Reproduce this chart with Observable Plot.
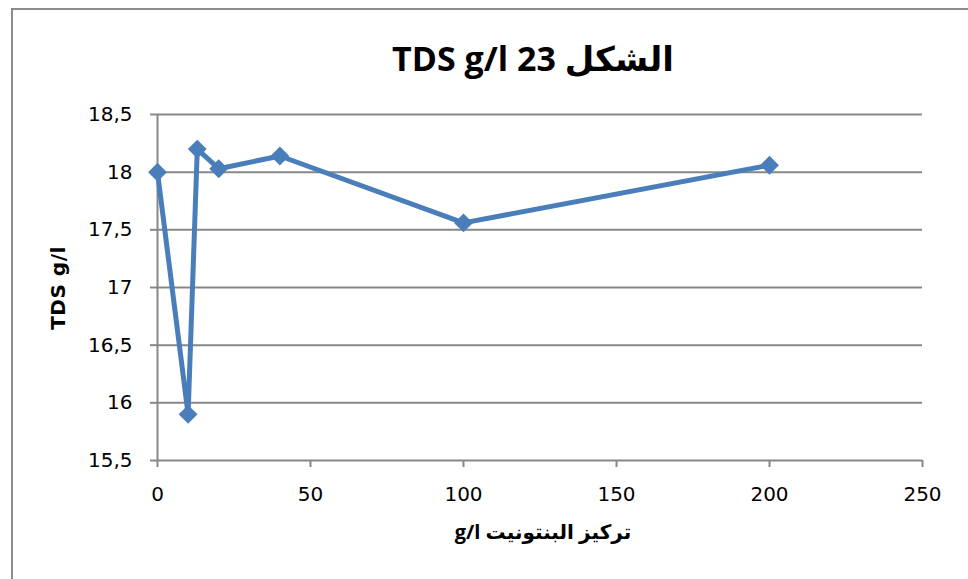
<!DOCTYPE html>
<html>
<head>
<meta charset="utf-8">
<script src="https://cdn.jsdelivr.net/npm/d3@7"></script>
<script src="https://cdn.jsdelivr.net/npm/@observablehq/plot@0.6"></script>
<style>
  html, body { margin: 0; padding: 0; background: #fff; }
  #wrap { position: relative; width: 968px; height: 579px; overflow: hidden; background: #fff; }
  #frame { position: absolute; left: 11px; top: 8px; width: 1000px; height: 700px;
           border-left: 2px solid #8c8c8c; border-top: 2px solid #8c8c8c; box-sizing: border-box; }
  #chart { position: absolute; left: 0; top: 0; }
  .lbl { position: absolute; font-weight: bold; color: #000; white-space: nowrap; line-height: 1; }
  #title { left: 233px; width: 600px; top: 41px; text-align: center; font-size: 34px;
           font-family: "Open Sans", "DejaVu Sans", sans-serif; direction: rtl; }
  #xlabel { left: 343px; width: 400px; top: 522px; text-align: center; font-size: 20px;
            font-family: "Open Sans", "DejaVu Sans", sans-serif; direction: rtl; }
  #ylabel { left: 58px; top: 288px; font-size: 20px; letter-spacing: 0.5px; font-family: "DejaVu Sans", sans-serif;
            transform: translate(-50%, -50%) rotate(-90deg); }
</style>
</head>
<body>
<div id="wrap">
  <div id="frame"></div>
  <div id="chart"></div>
  <div id="title" class="lbl">الشكل 23 TDS g/l</div>
  <div id="xlabel" class="lbl">تركيز البنتونيت g/l</div>
  <div id="ylabel" class="lbl">TDS g/l</div>
</div>
<script>
const bentonite = [0, 10, 13, 20, 40, 100, 200];
const tds = [18.0, 15.9, 18.2, 18.03, 18.14, 17.56, 18.06];
const yTicks = [15.5, 16, 16.5, 17, 17.5, 18, 18.5];
const xTicks = [0, 50, 100, 150, 200, 250];

const data = bentonite.map((x, i) => ({x, y: tds[i]}));
const blue = "#4A7EBB";
const grid = "#878787";

const chart = Plot.plot({
  width: 968,
  height: 579,
  marginLeft: 157,
  marginRight: 46,
  marginTop: 114,
  marginBottom: 119,
  x: {domain: [0, 250]},
  y: {domain: [15.5, 18.5]},
  style: {fontFamily: "'DejaVu Sans', sans-serif", fontSize: "20px", color: "#000", background: "transparent"},
  marks: [
    Plot.ruleY(yTicks, {stroke: grid, strokeWidth: 2}),
    Plot.ruleX([0], {stroke: grid, strokeWidth: 2}),
    Plot.axisY({ticks: yTicks, tickSize: 7, tickPadding: 18, stroke: grid, strokeWidth: 2, fill: "#000",
      tickFormat: d => String(d).replace(".", ","), label: null}),
    Plot.axisX({ticks: xTicks, tickSize: 7, tickPadding: 19, stroke: grid, strokeWidth: 2, fill: "#000",
      tickFormat: d => String(d), label: null}),
    Plot.line(data, {x: "x", y: "y", stroke: blue, strokeWidth: 5, strokeLinejoin: "miter"}),
    Plot.dot(data, {x: "x", y: "y", symbol: "diamond2", r: 8.5, fill: blue, stroke: "none"})
  ]
});
document.getElementById("chart").appendChild(chart);
</script>
</body>
</html>
